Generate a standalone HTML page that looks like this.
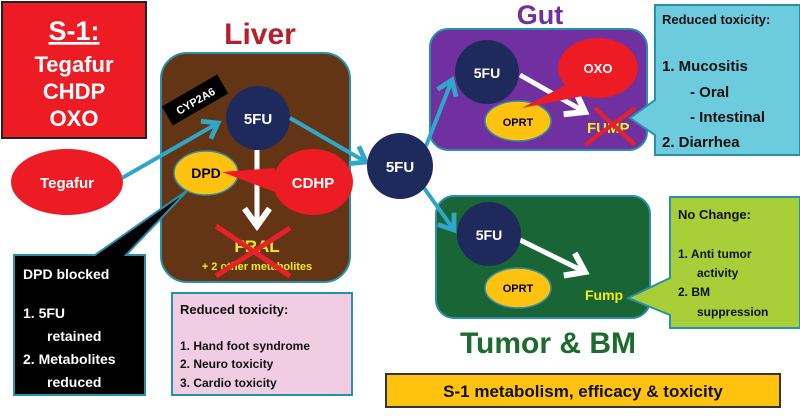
<!DOCTYPE html>
<html><head><meta charset="utf-8"><style>
html,body{margin:0;padding:0;background:#fff;}
svg{display:block;font-family:"Liberation Sans",sans-serif;font-weight:bold;}
</style></head><body>
<svg width="800" height="416" viewBox="0 0 800 416" xmlns="http://www.w3.org/2000/svg">
<defs>
<marker id="ta" markerWidth="6" markerHeight="6" refX="4" refY="3" orient="auto" markerUnits="strokeWidth"><path d="M0.5,0.5 L4,3 L0.5,5.5" fill="none" stroke="#2FA7C8" stroke-width="1.2"/></marker>
<marker id="wa" markerWidth="6" markerHeight="6" refX="4" refY="3" orient="auto" markerUnits="strokeWidth"><path d="M0.5,0.5 L4,3 L0.5,5.5" fill="none" stroke="#fff" stroke-width="1.2"/></marker>
</defs>
<rect x="2" y="2" width="144" height="136" fill="#ED1C24" stroke="#222" stroke-width="2"/>
<text x="74" y="40" fill="#fff" font-size="27" text-anchor="middle" text-decoration="underline">S-1:</text>
<text x="74" y="72" fill="#fff" font-size="22" text-anchor="middle">Tegafur</text>
<text x="74" y="99" fill="#fff" font-size="22" text-anchor="middle">CHDP</text>
<text x="74" y="126" fill="#fff" font-size="22" text-anchor="middle">OXO</text>
<text x="260" y="44" fill="#B5202A" font-size="30" text-anchor="middle">Liver</text>
<rect x="161" y="53" width="189" height="229" rx="26" fill="#643515" stroke="#2A8FA8" stroke-width="2"/>
<g transform="rotate(-30 195 100)"><rect x="163" y="89" width="64" height="22" fill="#000"/><text x="195" y="105" fill="#fff" font-size="11" text-anchor="middle">CYP2A6</text></g>
<line x1="257" y1="150" x2="257" y2="226" stroke="#fff" stroke-width="5" marker-end="url(#wa)"/>
<text x="257" y="252" fill="#F2EC1C" font-size="17" text-anchor="middle">FRAL</text>
<text x="257" y="270" fill="#F2EC1C" font-size="11" text-anchor="middle">+ 2 other metabolites</text>
<path d="M216 226 L290 276 M290 228 L216 276" stroke="#E8202A" stroke-width="5"/>
<path d="M14 255 L95 255 L188 190 L126 255 L145 255 L145 395 L14 395 Z" fill="#000" stroke="#2A8FA8" stroke-width="2"/>
<text x="23" y="279" fill="#fff" font-size="14">DPD blocked</text>
<text x="23" y="318" fill="#fff" font-size="14">1. 5FU</text>
<text x="47" y="341" fill="#fff" font-size="14">retained</text>
<text x="23" y="364" fill="#fff" font-size="14">2. Metabolites</text>
<text x="47" y="387" fill="#fff" font-size="14">reduced</text>
<ellipse cx="67" cy="182" rx="56" ry="33" fill="#ED1C24"/>
<text x="67" y="188" fill="#fff" font-size="15" text-anchor="middle">Tegafur</text>
<line x1="122" y1="178" x2="218" y2="123" stroke="#2FA7C8" stroke-width="4" marker-end="url(#ta)"/>
<ellipse cx="206" cy="173" rx="32" ry="22" fill="#FFC20E" stroke="#2A8FA8" stroke-width="1.5"/>
<text x="206" y="178" fill="#000" font-size="14" text-anchor="middle">DPD</text>
<path d="M222 172 L275 168 L275 192 Z" fill="#ED1C24"/>
<ellipse cx="313" cy="182" rx="40" ry="33" fill="#ED1C24"/>
<text x="313" y="188" fill="#fff" font-size="15" text-anchor="middle">CDHP</text>
<circle cx="258" cy="118" r="32" fill="#1F2A5C"/>
<text x="258" y="124" fill="#fff" font-size="15" text-anchor="middle">5FU</text>
<line x1="290" y1="118" x2="366" y2="162" stroke="#2FA7C8" stroke-width="4" marker-end="url(#ta)"/>
<rect x="172" y="293" width="180" height="102" fill="#F0CDE3" stroke="#2A8FA8" stroke-width="2"/>
<text x="180" y="314" fill="#111" font-size="13">Reduced toxicity:</text>
<text x="180" y="350" fill="#111" font-size="12">1.  Hand foot syndrome</text>
<text x="180" y="368" fill="#111" font-size="12">2.  Neuro toxicity</text>
<text x="180" y="387" fill="#111" font-size="12">3.  Cardio toxicity</text>
<text x="540" y="24" fill="#7030A0" font-size="27" text-anchor="middle">Gut</text>
<rect x="430" y="29" width="217" height="121" rx="18" fill="#7030A0" stroke="#2A8FA8" stroke-width="2"/>
<rect x="436" y="196" width="214" height="122" rx="18" fill="#1A6535" stroke="#2A8FA8" stroke-width="2"/>
<line x1="426" y1="146" x2="452" y2="80" stroke="#2FA7C8" stroke-width="4" marker-end="url(#ta)"/>
<line x1="424" y1="188" x2="454" y2="230" stroke="#2FA7C8" stroke-width="4" marker-end="url(#ta)"/>
<circle cx="400" cy="166" r="33" fill="#1F2A5C"/>
<text x="400" y="172" fill="#fff" font-size="15" text-anchor="middle">5FU</text>
<line x1="520" y1="75" x2="585" y2="112" stroke="#fff" stroke-width="5" marker-end="url(#wa)"/>
<circle cx="487" cy="72" r="32" fill="#1F2A5C"/>
<text x="487" y="78" fill="#fff" font-size="14" text-anchor="middle">5FU</text>
<ellipse cx="518" cy="121" rx="33" ry="20" fill="#FFC20E" stroke="#2A8FA8" stroke-width="1.5"/>
<text x="518" y="126" fill="#000" font-size="11" text-anchor="middle">OPRT</text>
<path d="M522 108 L575 80 L588 95 Z" fill="#ED1C24"/>
<ellipse cx="598" cy="68" rx="40" ry="30" fill="#ED1C24"/>
<text x="598" y="73" fill="#fff" font-size="13" text-anchor="middle">OXO</text>
<text x="587" y="133" fill="#F2EC1C" font-size="15">FUMP</text>
<path d="M595 108 L635 145 M635 108 L585 145" stroke="#E8202A" stroke-width="4"/>
<path d="M655 5 L800 5 L800 155 L655 155 L655 135 L630 118 L655 100 Z" fill="#6CCBDD" stroke="#2A8FA8" stroke-width="2"/>
<text x="662" y="24" fill="#111" font-size="13">Reduced toxicity:</text>
<text x="662" y="71" fill="#111" font-size="15">1. Mucositis</text>
<text x="690" y="97" fill="#111" font-size="15">- Oral</text>
<text x="690" y="122" fill="#111" font-size="15">- Intestinal</text>
<text x="662" y="147" fill="#111" font-size="15">2. Diarrhea</text>
<line x1="520" y1="240" x2="585" y2="272" stroke="#fff" stroke-width="5" marker-end="url(#wa)"/>
<circle cx="489" cy="234" r="32" fill="#1F2A5C"/>
<text x="489" y="240" fill="#fff" font-size="14" text-anchor="middle">5FU</text>
<ellipse cx="518" cy="288" rx="33" ry="20" fill="#FFC20E" stroke="#2A8FA8" stroke-width="1.5"/>
<text x="518" y="292" fill="#000" font-size="11" text-anchor="middle">OPRT</text>
<text x="585" y="300" fill="#F2EC1C" font-size="14">Fump</text>
<path d="M670 197 L800 197 L800 328 L670 328 L670 315 L628 298 L670 278 Z" fill="#A8CF38" stroke="#2A8FA8" stroke-width="2"/>
<text x="678" y="219" fill="#111" font-size="13">No Change:</text>
<text x="678" y="258" fill="#111" font-size="12">1.   Anti tumor</text>
<text x="697" y="277" fill="#111" font-size="12">activity</text>
<text x="678" y="296" fill="#111" font-size="12">2.   BM</text>
<text x="697" y="316" fill="#111" font-size="12">suppression</text>
<text x="548" y="353" fill="#1E6B30" font-size="30" text-anchor="middle">Tumor &amp; BM</text>
<rect x="386" y="374" width="394" height="33" fill="#FFC20E" stroke="#333" stroke-width="2"/>
<text x="583" y="397" fill="#111" font-size="17" text-anchor="middle">S-1 metabolism, efficacy &amp; toxicity</text>
</svg>
</body></html>
